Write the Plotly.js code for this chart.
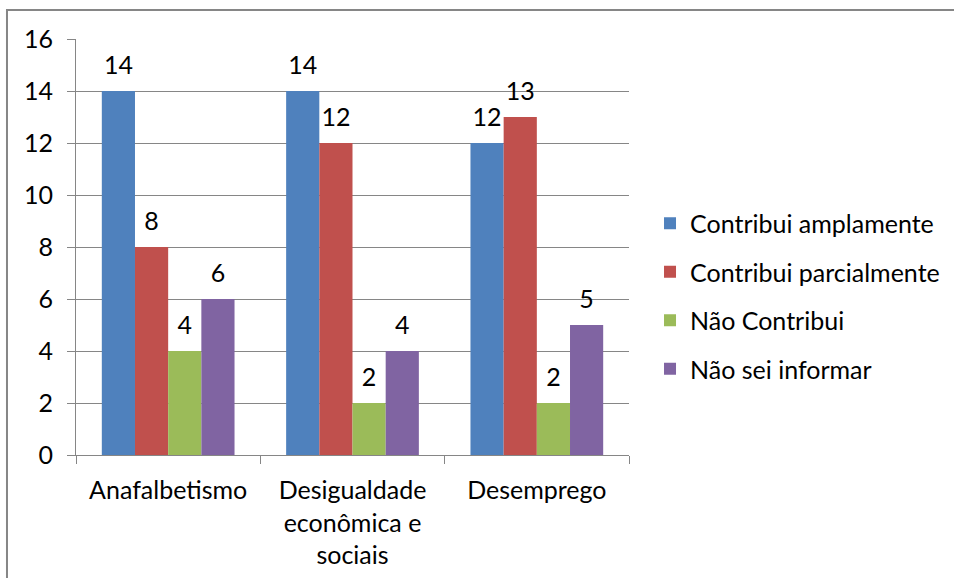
<!DOCTYPE html>
<html>
<head>
<meta charset="utf-8">
<script src="https://cdn.plot.ly/plotly-3.0.1.min.js"></script>
<style>html,body{margin:0;padding:0;background:#fff;}#chart{width:954px;height:578px;}</style>
</head>
<body>
<div id="chart"></div>
<script>
var categories = ["Anafalbetismo", "Desigualdade<br>econômica e<br>sociais", "Desemprego"];
var seriesNames = ["Contribui amplamente", "Contribui parcialmente", "Não Contribui", "Não sei informar"];
var amplamente = [14, 14, 12];
var parcialmente = [8, 12, 13];
var naoContribui = [4, 2, 2];
var naoSei = [6, 4, 5];
var yTicks = [0, 2, 4, 6, 8, 10, 12, 14, 16];
var colors = ["#4F81BD", "#C0504D", "#9BBB59", "#8064A2"];

var seriesValues = [amplamente, parcialmente, naoContribui, naoSei];
var FONT = "Lato, 'DejaVu Sans', sans-serif";
var FS = 25;

var traces = seriesValues.map(function (vals, i) {
  return {
    type: "bar",
    name: seriesNames[i],
    x: categories,
    y: vals,
    legendgroup: "g" + i,
    marker: { color: colors[i] },
    text: vals.map(String),
    texttemplate: "<span style='font-size:" + FS + "px'>%{text}</span><br> ",
    textposition: "outside",
    cliponaxis: false,
    textfont: { family: FONT, size: 9, color: "#000" },
    hoverinfo: "x+y+name"
  };
});

var layout = {
  width: 954,
  height: 578,
  margin: { l: 76, r: 325, t: 39, b: 123, autoexpand: false },
  paper_bgcolor: "#fff",
  plot_bgcolor: "#fff",
  font: { family: FONT, size: FS, color: "#000" },
  barmode: "group",
  bargap: 0.28,
  bargroupgap: 0,
  showlegend: true,
  legend: {
    x: 1.038, xanchor: "left",
    y: 0.382, yanchor: "middle",
    font: { family: FONT, size: FS, color: "#000" },
    tracegroupgap: 13,
    traceorder: "grouped",
    itemwidth: 30
  },
  xaxis: {
    type: "category",
    showgrid: false,
    showline: true,
    linecolor: "#868686",
    linewidth: 1,
    ticks: "outside",
    tickson: "boundaries",
    ticklen: 8,
    tickcolor: "#868686",
    ticklabelstandoff: 13,
    tickfont: { family: FONT, size: FS, color: "#000" }
  },
  yaxis: {
    range: [0, 16],
    tickvals: yTicks,
    ticktext: yTicks.map(String),
    showgrid: true,
    gridcolor: "#868686",
    gridwidth: 1,
    zeroline: false,
    showline: true,
    linecolor: "#868686",
    ticks: "outside",
    ticklen: 8,
    tickcolor: "#868686",
    ticklabelstandoff: 9,
    tickfont: { family: FONT, size: FS, color: "#000" }
  },
  shapes: [{
    type: "rect", xref: "paper", yref: "paper",
    x0: -0.1248, x1: 2.5, y0: -0.8, y1: 1.0697,
    line: { color: "#868686", width: 2 },
    fillcolor: "rgba(0,0,0,0)",
    layer: "below"
  }]
};

Plotly.newPlot("chart", traces, layout, { displayModeBar: false, staticPlot: true });
</script>
</body>
</html>
